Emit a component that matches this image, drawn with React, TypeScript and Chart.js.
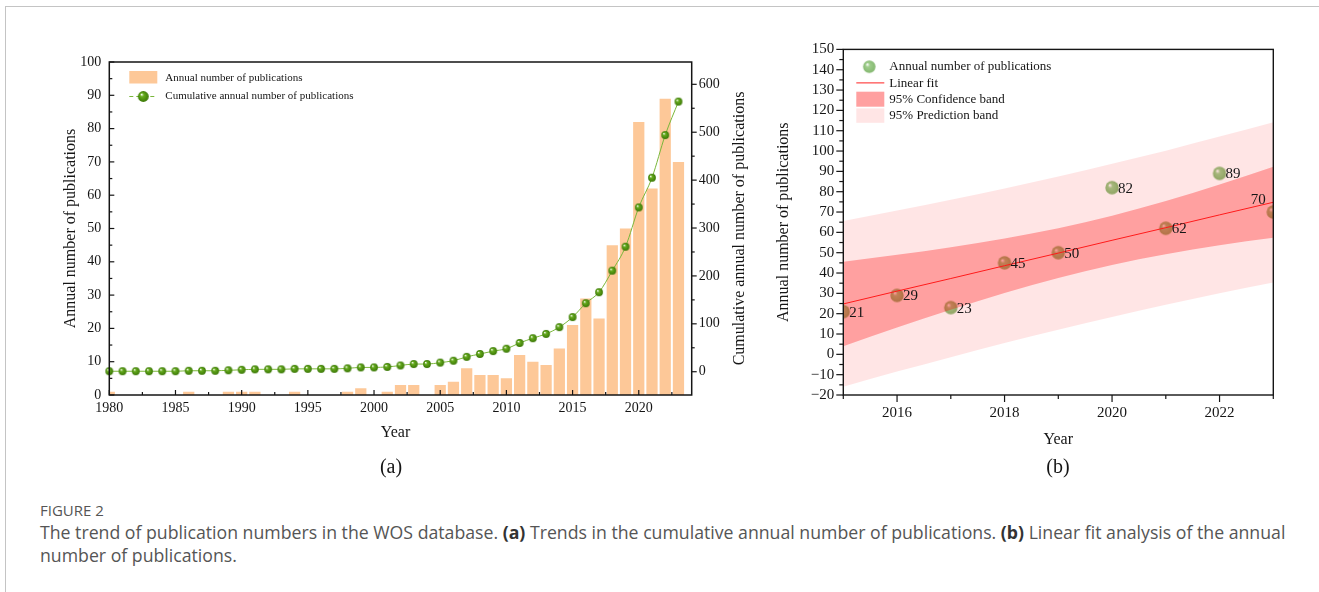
import React, { useEffect, useRef } from "react";
import { Chart, registerables } from "chart.js";

Chart.register(...registerables);

// ---------- Panel (a) data ----------
const years = [
  1980, 1981, 1982, 1983, 1984, 1985, 1986, 1987, 1988, 1989, 1990, 1991, 1992, 1993, 1994,
  1995, 1996, 1997, 1998, 1999, 2000, 2001, 2002, 2003, 2004, 2005, 2006, 2007, 2008, 2009,
  2010, 2011, 2012, 2013, 2014, 2015, 2016, 2017, 2018, 2019, 2020, 2021, 2022, 2023,
];
const annualCounts = [
  1, 0, 0, 0, 0, 0, 1, 0, 0, 1, 1, 1, 0, 0, 1,
  0, 0, 0, 1, 2, 0, 1, 3, 3, 0, 3, 4, 8, 6, 6,
  5, 12, 10, 9, 14, 21, 29, 23, 45, 50, 82, 62, 89, 70,
];
const cumulativeCounts = [
  1, 1, 1, 1, 1, 1, 2, 2, 2, 3, 4, 5, 5, 5, 6,
  6, 6, 6, 7, 9, 9, 10, 13, 16, 16, 19, 23, 31, 37, 43,
  48, 60, 70, 79, 93, 114, 143, 166, 211, 261, 343, 405, 494, 564,
];
const yearTicksA = [1980, 1985, 1990, 1995, 2000, 2005, 2010, 2015, 2020];
const annualTicksA = [0, 10, 20, 30, 40, 50, 60, 70, 80, 90, 100];
const cumulativeTicksA = [0, 100, 200, 300, 400, 500, 600];

// ---------- Panel (b) data ----------
const fitYears = [2015, 2016, 2017, 2018, 2019, 2020, 2021, 2022, 2023];
const fitCounts = [21, 29, 23, 45, 50, 82, 62, 89, 70];
const linearFit = [24.8, 31.1, 37.3, 43.6, 49.8, 56.1, 62.3, 68.6, 74.8];
const confUpper = [45.6, 49.0, 52.7, 57.0, 62.0, 68.2, 75.4, 83.5, 92.3];
const confLower = [4.0, 13.2, 21.9, 30.2, 37.6, 44.0, 49.2, 53.7, 57.3];
const predUpper = [65.6, 70.7, 76.0, 81.6, 87.5, 93.8, 100.2, 107.1, 114.2];
const predLower = [-16.0, -8.5, -1.4, 5.6, 12.1, 18.4, 24.4, 30.1, 35.4];
const yearTicksB = [2016, 2018, 2020, 2022];
const countTicksB = [-20, -10, 0, 10, 20, 30, 40, 50, 60, 70, 80, 90, 100, 110, 120, 130, 140, 150];

const SERIF = "'Liberation Serif', 'Times New Roman', Times, serif";
const INK = "#151515";

function makeSphere(r: number, base: string, dark: string): HTMLCanvasElement {
  const c = document.createElement("canvas");
  const s = Math.ceil(r * 2) + 2;
  c.width = s;
  c.height = s;
  const g = c.getContext("2d")!;
  const cx = s / 2;
  const cy = s / 2;
  const grad = g.createRadialGradient(cx - r * 0.35, cy - r * 0.4, r * 0.05, cx, cy, r);
  grad.addColorStop(0, "#ffffff");
  grad.addColorStop(0.3, base);
  grad.addColorStop(1, dark);
  g.fillStyle = grad;
  g.beginPath();
  g.arc(cx, cy, r, 0, Math.PI * 2);
  g.fill();
  return c;
}

function tickSet(values: number[]) {
  return (s: any) => {
    s.ticks = values.map((value) => ({ value }));
  };
}

function fmt(v: any) {
  return String(v).replace("-", "\u2212");
}

function drawXTicks(ctx: any, scale: any, y: number, vals: number[], len: number) {
  vals.forEach((v) => {
    const x = scale.getPixelForValue(v);
    ctx.beginPath();
    ctx.moveTo(x, y);
    ctx.lineTo(x, y + len);
    ctx.stroke();
  });
}
function drawYTicks(ctx: any, scale: any, x: number, vals: number[], len: number) {
  vals.forEach((v) => {
    const y = scale.getPixelForValue(v);
    ctx.beginPath();
    ctx.moveTo(x, y);
    ctx.lineTo(x + len, y);
    ctx.stroke();
  });
}
function range(a: number, b: number, step: number) {
  const out: number[] = [];
  for (let v = a; v <= b + 1e-9; v += step) out.push(v);
  return out;
}

export default function App() {
  const refA = useRef<HTMLCanvasElement>(null);
  const refB = useRef<HTMLCanvasElement>(null);

  useEffect(() => {
    const sphereA = makeSphere(3.9, "#67ad1e", "#3b7806");
    const sphereALegend = makeSphere(5.4, "#67ad1e", "#3b7806");
    const sphereB = makeSphere(6.7, "#9fcd8c", "#84b870");
    const sphereBLegend = makeSphere(6.2, "#9fcd8c", "#84b870");

    const annualLabel = "Annual number of publications";
    const cumulativeLabel = "Cumulative annual number of publications";
    const tickFontA = { family: SERIF, size: 14 };

    const framePluginA = {
      id: "frameA",
      afterDraw(chart: any) {
        const { ctx, chartArea: a, scales } = chart;
        ctx.save();
        ctx.strokeStyle = INK;
        ctx.lineWidth = 1.5;
        ctx.strokeRect(a.left, a.top, a.right - a.left, a.bottom - a.top);
        ctx.lineWidth = 1.2;
        drawXTicks(ctx, scales.x, a.bottom, range(1980, 2020, 5), -5);
        drawXTicks(ctx, scales.x, a.bottom, range(1982.5, 2022.5, 5), -3);
        drawYTicks(ctx, scales.y, a.left, range(0, 100, 10), 5);
        drawYTicks(ctx, scales.y, a.left, range(5, 95, 10), 3);
        drawYTicks(ctx, scales.y1, a.right, range(0, 600, 100), 5);
        drawYTicks(ctx, scales.y1, a.right, range(50, 550, 100), 3);

        // axis titles
        ctx.fillStyle = INK;
        ctx.font = `16px ${SERIF}`;
        ctx.textAlign = "center";
        ctx.textBaseline = "middle";
        const cy = (a.top + a.bottom) / 2;
        ctx.save();
        ctx.translate(a.left - 39, cy);
        ctx.rotate(-Math.PI / 2);
        ctx.fillText(annualLabel, 0, 0);
        ctx.restore();
        ctx.save();
        ctx.translate(a.right + 48, cy);
        ctx.rotate(-Math.PI / 2);
        ctx.fillText(cumulativeLabel, 0, 0);
        ctx.restore();
        ctx.fillText("Year", (a.left + a.right) / 2 - 5, a.bottom + 38);

        // legend
        const lx = a.left + 20;
        ctx.fillStyle = "#fdc898";
        ctx.fillRect(lx, a.top + 9, 28, 12.5);
        ctx.strokeStyle = "#7ab73a";
        ctx.lineWidth = 1;
        ctx.setLineDash([4, 3]);
        ctx.beginPath();
        ctx.moveTo(lx, a.top + 34.5);
        ctx.lineTo(lx + 28, a.top + 34.5);
        ctx.stroke();
        ctx.setLineDash([]);
        ctx.drawImage(sphereALegend, lx + 14 - sphereALegend.width / 2, a.top + 34.5 - sphereALegend.height / 2);
        ctx.fillStyle = INK;
        ctx.font = `11px ${SERIF}`;
        ctx.textAlign = "left";
        ctx.fillText(annualLabel, a.left + 56, a.top + 16.5);
        ctx.fillText(cumulativeLabel, a.left + 56, a.top + 34.5);
        ctx.restore();
      },
    };

    const chartA = new Chart(refA.current!, {
      type: "bar",
      data: {
        datasets: [
          {
            type: "line",
            label: cumulativeLabel,
            data: years.map((y, i) => ({ x: y, y: cumulativeCounts[i] })),
            yAxisID: "y1",
            borderColor: "#7ab73a",
            borderWidth: 1,
            pointStyle: sphereA as any,
            pointRadius: 4,
            cubicInterpolationMode: "monotone",
            clip: false as any,
            order: 0,
          } as any,
          {
            type: "bar",
            label: annualLabel,
            data: years.map((y, i) => ({ x: y, y: annualCounts[i] })),
            yAxisID: "y",
            backgroundColor: "#fdc898",
            borderWidth: 0,
            barPercentage: 0.85,
            categoryPercentage: 1,
            order: 1,
          } as any,
        ],
      },
      options: {
        animation: false,
        responsive: false,
        events: [],
        layout: { padding: { top: 22, left: 0, right: 0, bottom: 0 } },
        plugins: { legend: { display: false }, tooltip: { enabled: false } },
        scales: {
          x: {
            type: "linear",
            position: "bottom",
            min: 1980,
            max: 2024,
            offset: false,
            grid: { display: false, drawTicks: false },
            border: { display: false },
            ticks: { font: tickFontA, color: INK, padding: 5, maxRotation: 0, autoSkip: false, callback: fmt },
            afterBuildTicks: tickSet(yearTicksA),
            afterFit: (s: any) => {
              s.height = 65;
            },
          },
          y: {
            type: "linear",
            position: "left",
            min: 0,
            max: 100,
            grid: { display: false, drawTicks: false },
            border: { display: false },
            ticks: { font: tickFontA, color: INK, padding: 8, autoSkip: false, callback: fmt },
            afterBuildTicks: tickSet(annualTicksA),
            afterFit: (s: any) => {
              s.width = 69.3;
            },
          },
          y1: {
            type: "linear",
            position: "right",
            min: -48.6,
            max: 646.6,
            grid: { display: false, drawTicks: false },
            border: { display: false },
            ticks: { font: tickFontA, color: INK, padding: 7, autoSkip: false, callback: fmt },
            afterBuildTicks: tickSet(cumulativeTicksA),
            afterFit: (s: any) => {
              s.width = 88.3;
            },
          },
        },
      } as any,
      plugins: [framePluginA],
    });

    // ---------- Panel (b) ----------
    const pointsLabel = "Annual number of publications";
    const framePluginB = {
      id: "frameB",
      afterDraw(chart: any) {
        const { ctx, chartArea: a, scales } = chart;
        ctx.save();
        ctx.strokeStyle = INK;
        ctx.lineWidth = 1.4;
        ctx.strokeRect(a.left, a.top, a.right - a.left, a.bottom - a.top);
        ctx.lineWidth = 1.2;
        drawXTicks(ctx, scales.x, a.bottom, range(2016, 2022, 2), 7);
        drawXTicks(ctx, scales.x, a.bottom, range(2015, 2023, 2), 4);
        drawYTicks(ctx, scales.y, a.left, range(-20, 150, 10), -7);
        drawYTicks(ctx, scales.y, a.left, range(-15, 145, 10), -4);

        // point labels
        const meta = chart.getDatasetMeta(5);
        ctx.fillStyle = INK;
        ctx.font = `15px ${SERIF}`;
        ctx.textBaseline = "middle";
        meta.data.forEach((el: any, i: number) => {
          const t = String(fitCounts[i]);
          if (i === fitCounts.length - 1) {
            ctx.textAlign = "center";
            ctx.fillText(t, el.x - 15, el.y - 12);
          } else {
            ctx.textAlign = "left";
            ctx.fillText(t, el.x + 6, el.y + 1);
          }
        });

        // titles
        ctx.font = `16px ${SERIF}`;
        ctx.textAlign = "center";
        ctx.save();
        ctx.translate(a.left - 60, (a.top + a.bottom) / 2);
        ctx.rotate(-Math.PI / 2);
        ctx.fillText("Annual number of publications", 0, 0);
        ctx.restore();
        ctx.fillText("Year", (a.left + a.right) / 2, a.bottom + 45);

        // legend
        const lx = a.left + 13;
        ctx.drawImage(sphereBLegend, a.left + 26 - sphereBLegend.width / 2, a.top + 17.3 - sphereBLegend.height / 2);
        ctx.strokeStyle = "#ff2020";
        ctx.lineWidth = 1;
        ctx.beginPath();
        ctx.moveTo(lx, a.top + 33.5);
        ctx.lineTo(lx + 28, a.top + 33.5);
        ctx.stroke();
        ctx.fillStyle = "rgb(255,160,160)";
        ctx.fillRect(lx, a.top + 42.3, 28, 15);
        ctx.fillStyle = "rgb(255,229,229)";
        ctx.fillRect(lx, a.top + 59, 28, 14.4);
        ctx.fillStyle = INK;
        ctx.font = `13px ${SERIF}`;
        ctx.textAlign = "left";
        const tx = a.left + 46;
        ctx.fillText(pointsLabel, tx, a.top + 17.5);
        ctx.fillText("Linear fit", tx, a.top + 34);
        ctx.fillText("95% Confidence band", tx, a.top + 50.6);
        ctx.fillText("95% Prediction band", tx, a.top + 66.6);
        ctx.restore();
      },
    };

    const toXY = (arr: number[]) => fitYears.map((x, i) => ({ x, y: arr[i] }));
    const tickFontB = { family: SERIF, size: 15 };

    const chartB = new Chart(refB.current!, {
      type: "line",
      data: {
        datasets: [
          {
            label: "Linear fit",
            data: toXY(linearFit),
            borderColor: "#ff1a1a",
            borderWidth: 1,
            pointRadius: 0,
            fill: false,
          },
          {
            label: "95% Confidence band",
            data: toXY(confUpper),
            borderWidth: 0,
            borderColor: "rgba(0,0,0,0)",
            backgroundColor: "rgba(255,0,0,0.3)",
            pointRadius: 0,
            cubicInterpolationMode: "monotone",
            fill: "+1",
          },
          {
            label: "conf lower",
            data: toXY(confLower),
            borderWidth: 0,
            borderColor: "rgba(0,0,0,0)",
            pointRadius: 0,
            cubicInterpolationMode: "monotone",
            fill: false,
          },
          {
            label: "95% Prediction band",
            data: toXY(predUpper),
            borderWidth: 0,
            borderColor: "rgba(0,0,0,0)",
            backgroundColor: "rgba(255,0,0,0.1)",
            pointRadius: 0,
            cubicInterpolationMode: "monotone",
            fill: "+1",
          },
          {
            label: "pred lower",
            data: toXY(predLower),
            borderWidth: 0,
            borderColor: "rgba(0,0,0,0)",
            pointRadius: 0,
            cubicInterpolationMode: "monotone",
            fill: false,
          },
          {
            label: pointsLabel,
            data: toXY(fitCounts),
            showLine: false,
            pointStyle: sphereB as any,
            pointRadius: 6.7,
            fill: false,
          },
        ] as any,
      },
      options: {
        animation: false,
        responsive: false,
        events: [],
        layout: { padding: { top: 19.4, left: 0, right: 26.7, bottom: 0 } },
        plugins: { legend: { display: false }, tooltip: { enabled: false } },
        scales: {
          x: {
            type: "linear",
            min: 2015,
            max: 2023,
            grid: { display: false, drawTicks: false },
            border: { display: false },
            ticks: { font: tickFontB, color: INK, padding: 9, maxRotation: 0, autoSkip: false, callback: fmt },
            afterBuildTicks: tickSet(yearTicksB),
            afterFit: (s: any) => {
              s.height = 65;
            },
          },
          y: {
            type: "linear",
            min: -20,
            max: 150,
            grid: { display: false, drawTicks: false },
            border: { display: false },
            ticks: { font: tickFontB, color: INK, padding: 9, autoSkip: false, callback: fmt },
            afterBuildTicks: tickSet(countTicksB),
            afterFit: (s: any) => {
              s.width = 73.3;
            },
          },
        },
      } as any,
      plugins: [framePluginB],
    });

    return () => {
      chartA.destroy();
      chartB.destroy();
    };
  }, []);

  const captionFont = "'Open Sans', 'Noto Sans', sans-serif";

  return (
    <div style={{ position: "absolute", left: 0, top: 0, width: 1319, height: 592, background: "#fff", overflow: "hidden" }}>
      <div
        style={{
          position: "absolute",
          left: 5,
          top: 6,
          width: 1400,
          height: 700,
          borderTop: "1px solid #c4c4c4",
          borderLeft: "1px solid #c4c4c4",
        }}
      />
      <canvas
        ref={refA}
        width={740}
        height={420}
        style={{ position: "absolute", left: 40, top: 40, width: 740, height: 420 }}
      />
      <canvas
        ref={refB}
        width={530}
        height={430}
        style={{ position: "absolute", left: 770, top: 30, width: 530, height: 430 }}
      />
      <div style={{ position: "absolute", left: 341, width: 100, top: 453, textAlign: "center", fontFamily: SERIF, fontSize: 20, color: INK, lineHeight: "26px" }}>
        (a)
      </div>
      <div style={{ position: "absolute", left: 1008, width: 100, top: 453, textAlign: "center", fontFamily: SERIF, fontSize: 20, color: INK, lineHeight: "26px" }}>
        (b)
      </div>
      <div style={{ position: "absolute", left: 40, top: 500, fontFamily: captionFont, fontSize: 15, color: "#555", lineHeight: "20px" }}>
        FIGURE 2
      </div>
      <div
        style={{
          position: "absolute",
          left: 40,
          top: 521,
          fontFamily: captionFont,
          fontSize: 17.7,
          color: "#555",
          lineHeight: "23px",
          whiteSpace: "nowrap",
        }}
      >
        The trend of publication numbers in the WOS database. <b style={{ color: "#333" }}>(a)</b> Trends in the cumulative annual number of publications.{" "}
        <b style={{ color: "#333" }}>(b)</b> Linear fit analysis of the annual
        <br />
        number of publications.
      </div>
    </div>
  );
}
